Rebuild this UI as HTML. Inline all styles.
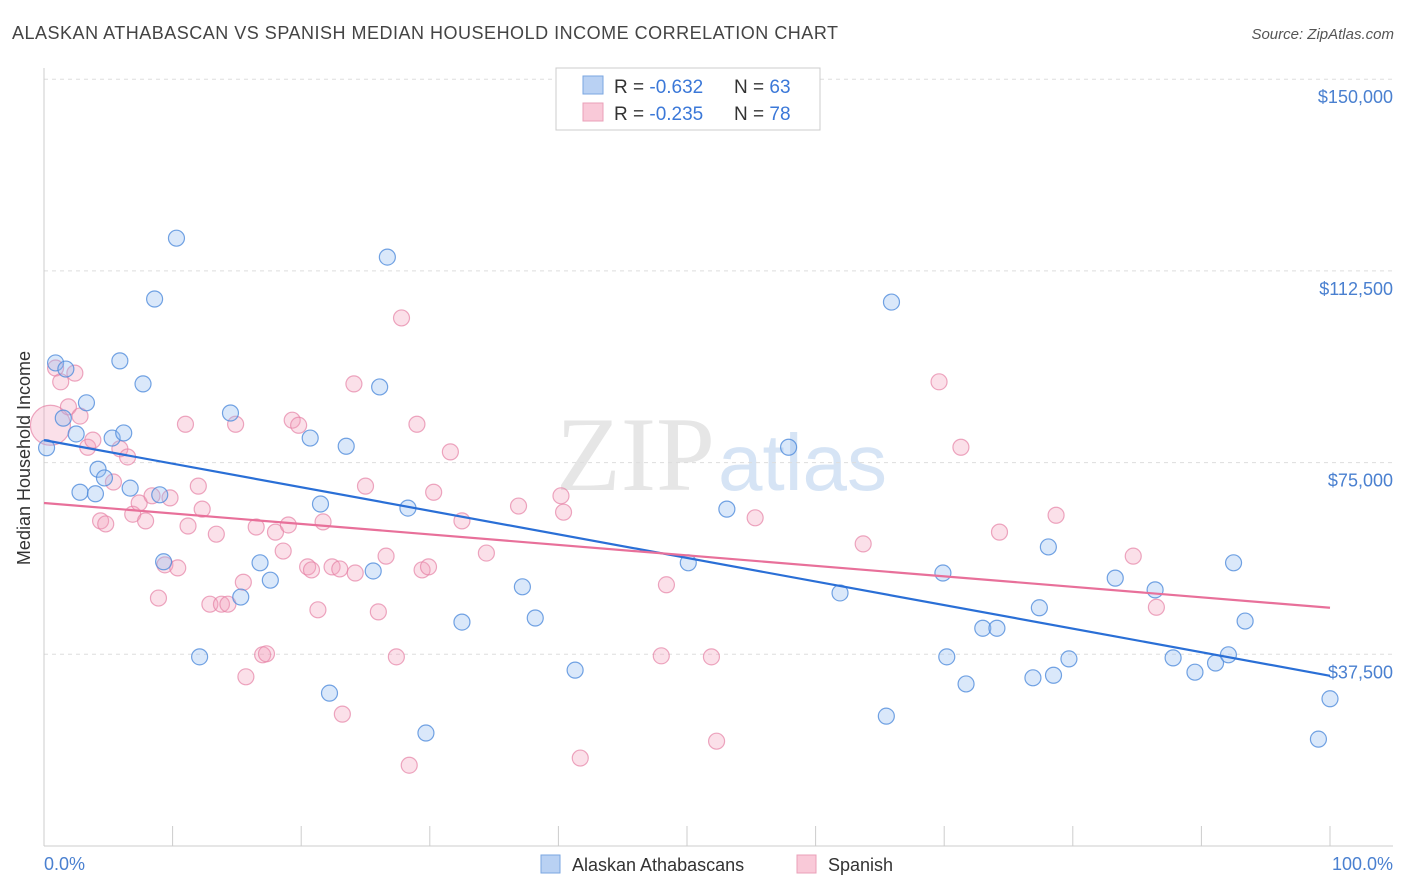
<!DOCTYPE html>
<html><head><meta charset="utf-8"><style>
body{margin:0;background:#fff;font-family:"Liberation Sans",sans-serif;}
svg{display:block}
</style></head><body>
<svg width="1406" height="892">
<text x="12" y="39" font-size="18" fill="#444" textLength="826">ALASKAN ATHABASCAN VS SPANISH MEDIAN HOUSEHOLD INCOME CORRELATION CHART</text>
<text x="1394" y="39" font-size="15" fill="#555" text-anchor="end" font-style="italic">Source: ZipAtlas.com</text>
<text x="715" y="490" font-size="106" fill="#e6e6e6" text-anchor="end" font-family="Liberation Serif">ZIP</text>
<text x="718" y="490" font-size="80" fill="#d6e4f5">atlas</text>
<g id="grid"></g>
<line x1="44" y1="68" x2="44" y2="846" stroke="#ccc"/>
<line x1="44" y1="846" x2="1393" y2="846" stroke="#ccc"/>
<text x="30" y="458" font-size="18" fill="#333" text-anchor="middle" transform="rotate(-90 30 458)">Median Household Income</text>
<text x="44" y="870" font-size="18" fill="#4a80d0">0.0%</text>
<text x="1393" y="870" font-size="18" fill="#4a80d0" text-anchor="end">100.0%</text>
<g id="pts"></g>
<g id="trend"></g>
<g>
<rect x="556" y="68" width="264" height="62" fill="#fff" stroke="#ccc"/>
<rect x="583" y="76" width="20" height="18" fill="#b9d1f3" stroke="#7aa6e0"/>
<rect x="583" y="103" width="20" height="18" fill="#f9c9d8" stroke="#eaa0b8"/>
<text x="614" y="93" font-size="19" fill="#333">R = <tspan fill="#3b78d8">-0.632</tspan></text>
<text x="734" y="93" font-size="19" fill="#333">N = <tspan fill="#3b78d8">63</tspan></text>
<text x="614" y="120" font-size="19" fill="#333">R = <tspan fill="#3b78d8">-0.235</tspan></text>
<text x="734" y="120" font-size="19" fill="#333">N = <tspan fill="#3b78d8">78</tspan></text>
</g>
<g>
<rect x="541" y="855" width="19" height="18" fill="#b9d1f3" stroke="#7aa6e0"/>
<text x="572" y="871" font-size="18" fill="#333">Alaskan Athabascans</text>
<rect x="797" y="855" width="19" height="18" fill="#f9c9d8" stroke="#eaa0b8"/>
<text x="828" y="871" font-size="18" fill="#333">Spanish</text>
</g>
</svg>
<script>
const yTicks=[37.5,75,112.5,150];
const yTickLabels=["$37,500","$75,000","$112,500","$150,000"];
const xTicks=[0,10,20,30,40,50,60,70,80,90,100];
const blueX=[.2,.9,1.7,1.5,2.5,3.3,4.2,2.8,4.0,4.7,5.3,6.2,5.9,6.7,7.7,8.6,10.3,9.0,9.3,12.1,14.5,15.3,16.8,17.6,20.7,21.5,22.2,23.5,25.6,26.1,26.7,28.3,29.7,32.5,37.2,38.2,41.3,50.1,53.1,57.9,61.9,65.5,65.9,69.9,70.2,71.7,73.0,74.1,76.9,77.4,78.5,79.7,78.1,83.3,86.4,87.8,89.5,91.1,92.1,92.5,93.4,100,99.1];
const blueY=[77.9,94.5,93.3,83.7,80.6,86.7,73.7,69.2,68.9,72.0,79.8,80.8,94.9,70.0,90.4,107.0,118.9,68.7,55.6,37.0,84.7,48.7,55.4,52.0,79.8,66.9,29.9,78.2,53.8,89.8,115.2,66.1,22.1,43.8,50.7,44.6,34.4,55.4,65.9,78.0,49.5,25.4,106.4,53.4,37.0,31.7,42.6,42.6,32.9,46.6,33.4,36.6,58.5,52.4,50.1,36.8,34.0,35.8,37.4,55.4,44.0,28.8,20.9];
const pinkX=[.5,.9,1.3,1.9,2.4,2.8,3.4,3.8,4.4,4.8,5.4,5.9,6.5,6.9,7.4,7.9,8.4,8.9,9.4,9.8,10.4,11.0,11.2,12.0,12.3,12.9,13.4,13.8,14.3,14.9,15.5,15.7,16.5,17.0,17.3,18.0,18.6,19.0,19.3,19.8,20.5,20.8,21.3,21.7,22.4,23.0,23.2,24.2,24.1,25.0,26.0,26.6,27.4,27.8,28.4,29.0,29.4,29.9,30.3,31.6,32.5,34.4,36.9,40.2,40.4,41.7,48.0,48.4,51.9,52.3,55.3,63.7,69.6,71.3,74.3,78.7,84.7,86.5];
const pinkY=[82.3,93.5,90.8,85.9,92.5,84.1,78.0,79.4,63.6,63.0,71.2,77.7,76.1,64.9,67.1,63.6,68.5,48.5,55.0,68.1,54.4,82.5,62.6,70.4,65.9,47.3,61.0,47.3,47.3,82.5,51.6,33.1,62.4,37.4,37.6,61.4,57.7,62.8,83.3,82.3,54.6,54.0,46.2,63.4,54.6,54.2,25.8,53.4,90.4,70.4,45.8,56.7,37.0,103.3,15.8,82.5,54.0,54.6,69.2,77.1,63.6,57.3,66.5,68.5,65.3,17.2,37.2,51.1,37.0,20.5,64.2,59.1,90.8,78.0,61.4,64.7,56.7,46.7];
const blueTrend=[79.4,33.3];
const pinkTrend=[67.1,46.6];
const NS="http://www.w3.org/2000/svg";
const X=v=>44+v*12.86;
const Y=v=>846-v*5.112;
function mk(t,a,p){const e=document.createElementNS(NS,t);for(const k in a)e.setAttribute(k,a[k]);p.appendChild(e);return e;}
const grid=document.getElementById('grid');
yTicks.forEach((t,i)=>{
 const l=mk('line',{x1:44,x2:1393,y1:Y(t),y2:Y(t),stroke:'#ddd','stroke-dasharray':'4,4'},grid);
 
 
 const tx=mk('text',{x:1393,y:Y(t)+24,'font-size':18,fill:'#4a80d0','text-anchor':'end'},grid);
 tx.textContent=yTickLabels[i];
 
 
});
xTicks.forEach(t=>{
 const l=mk('line',{x1:X(t),x2:X(t),y1:826,y2:846,stroke:'#ccc'},grid);
 
 
});
const pts=document.getElementById('pts');
pinkX.forEach((x,i)=>{
 const c=mk('circle',{cx:X(x),cy:Y(pinkY[i]),r:i===0?20:8,fill:'rgba(244,160,188,0.32)',stroke:'rgba(230,130,165,0.7)','stroke-width':1.2},pts);
 
 
});
blueX.forEach((x,i)=>{
 const c=mk('circle',{cx:X(x),cy:Y(blueY[i]),r:8,fill:'rgba(150,190,240,0.35)',stroke:'rgba(80,140,220,0.8)','stroke-width':1.2},pts);
 
 
});
const tr=document.getElementById('trend');
const bl=mk('line',{x1:X(0),y1:Y(blueTrend[0]),x2:X(100),y2:Y(blueTrend[1]),stroke:'#2a6fd6','stroke-width':2.2},tr);


const pl=mk('line',{x1:X(0),y1:Y(pinkTrend[0]),x2:X(100),y2:Y(pinkTrend[1]),stroke:'#e8709a','stroke-width':2.2},tr);


</script>
</body></html>
